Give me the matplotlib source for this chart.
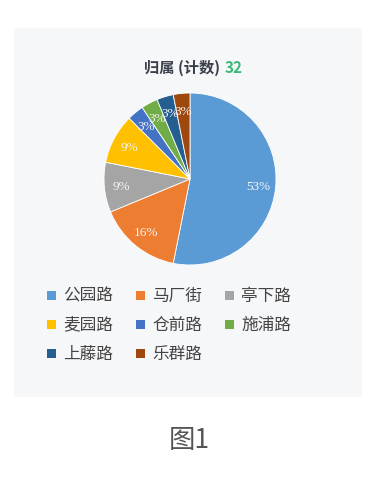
import matplotlib
matplotlib.use("Agg")
import matplotlib.pyplot as plt
from matplotlib.patches import Rectangle

categories = ["公园路", "马厂街", "亭下路", "麦园路", "仓前路", "施浦路", "上藤路", "乐群路"]
counts = [17, 5, 3, 3, 1, 1, 1, 1]
colors = ["#5b9bd5", "#ed7d31", "#a5a5a5", "#ffc000", "#4472c4", "#70ad47", "#255e91", "#9e480e"]
title_text = "归属 (计数) "
total_text = "32"
caption = "图1"

plt.rcParams['font.family'] = ['Noto Sans CJK SC', 'DejaVu Sans']

W, H = 373, 481
fig = plt.figure(figsize=(W/100, H/100), dpi=100)
fig.patch.set_facecolor("white")

# panel background
fig.patches.append(Rectangle((14/W, 1-398/H), (362-14)/W, (398-29)/H,
                             transform=fig.transFigure, facecolor="#f6f7f9",
                             edgecolor="none", zorder=-5))

cx, cy, r = 190, 180, 86
ax = fig.add_axes([(cx-r)/W, 1-(cy+r)/H, 2*r/W, 2*r/H])
ax.set_zorder(1)
ax.patch.set_alpha(0)
wedges, texts, autotexts = ax.pie(
    counts, colors=colors, startangle=90, counterclock=False,
    autopct=lambda p: f"{p:.0f}%", pctdistance=0.8,
    wedgeprops=dict(linewidth=0.6, edgecolor="white"),
    textprops=dict(color="#f4f4f4", fontsize=9.5, family=["Liberation Serif"]))
ax.set_aspect("equal")
ax.set_xlim(-1, 1); ax.set_ylim(-1, 1)
ax.axis("off")

# title
fig.text(224/W, 1-68/H, title_text, ha="right", va="center", fontsize=11,
         fontweight="bold", color="#3a3f4b")
fig.text(225/W, 1-68/H, total_text, ha="left", va="center", fontsize=11,
         fontweight="bold", color="#3cb878")

# legend
col_x = [47, 136, 225]
row_y = [296, 325, 354]
for i, (cat, col) in enumerate(zip(categories, colors)):
    rr, cc = divmod(i, 3)
    x, y = col_x[cc], row_y[rr]
    fig.patches.append(Rectangle((x/W, 1-(y+4.5)/H), 9/W, 9/H,
                                 transform=fig.transFigure, facecolor=col,
                                 edgecolor="none", zorder=2))
    fig.text((x+16)/W, 1-y/H, cat, ha="left", va="center", fontsize=12,
             color="#444444")

fig.text(189/W, 1-441/H, caption, ha="center", va="center", fontsize=19,
         color="#555555", fontweight="light")

fig.savefig("out.png", dpi=100, facecolor="white")
